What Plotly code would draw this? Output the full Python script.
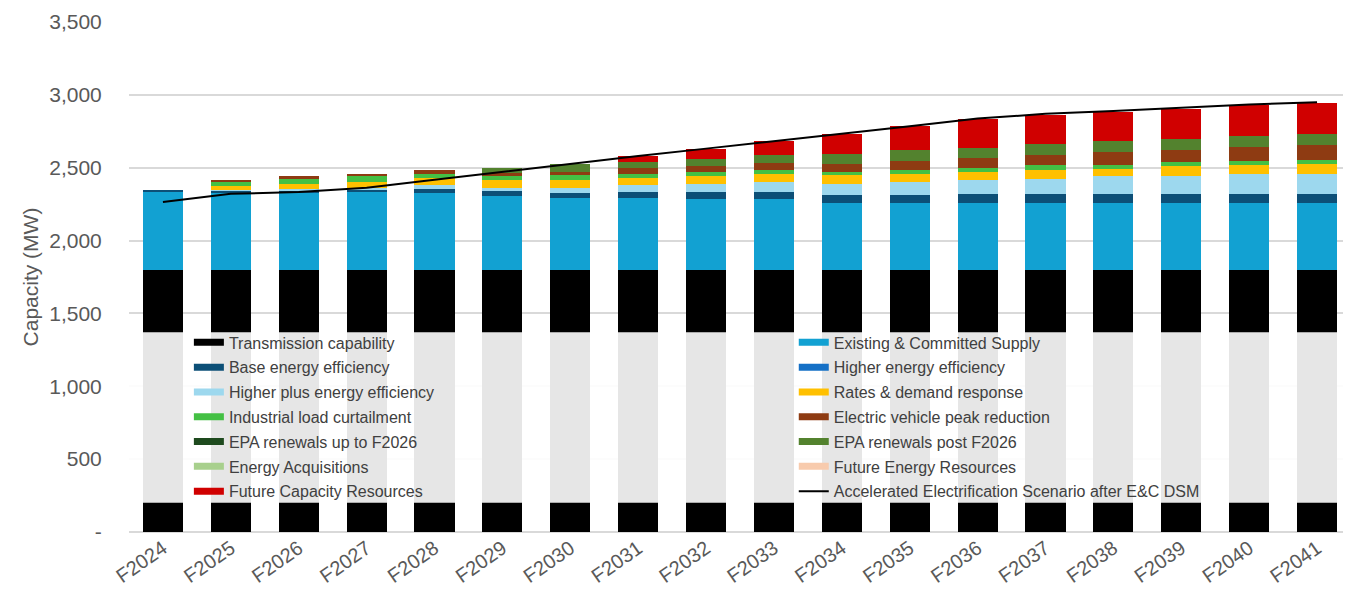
import plotly.graph_objects as go

years = ["F2024", "F2025", "F2026", "F2027", "F2028", "F2029", "F2030", "F2031", "F2032",
         "F2033", "F2034", "F2035", "F2036", "F2037", "F2038", "F2039", "F2040", "F2041"]

transmission = [1800] * 18
existing = [540, 531, 533, 530, 526, 506, 492, 490, 487, 487, 457, 457, 457, 457, 457, 457, 457, 457]
base_ee = [5, 10, 13, 22, 30, 34, 34, 43, 46, 46, 53, 53, 60, 60, 60, 60, 60, 60]
higher_ee = [0] * 18
higher_plus_ee = [0, 6, 10, 8, 23, 20, 34, 46, 53, 67, 80, 92, 96, 108, 124, 129, 138, 142]
rates_dr = [0, 25, 34, 45, 53, 58, 57, 53, 55, 55, 58, 53, 55, 62, 53, 63, 61, 64]
industrial = [0, 30, 32, 35, 27, 25, 30, 27, 30, 32, 23, 27, 32, 29, 27, 30, 30, 28]
ev_peak = [0, 16, 19, 19, 23, 20, 27, 41, 38, 45, 57, 64, 69, 74, 87, 85, 96, 103]
epa_upto = [0] * 18
epa_post = [0, 0, 0, 0, 0, 37, 53, 39, 51, 53, 68, 73, 69, 75, 73, 71, 74, 75]
energy_acq = [0] * 18
future_energy = [0] * 18
future_capacity = [0, 0, 0, 0, 0, 0, 0, 41, 71, 99, 138, 168, 199, 195, 202, 211, 213, 218]
accel_scenario = [2265, 2321, 2333, 2363, 2418, 2473, 2525, 2580, 2631, 2684, 2737, 2785,
                  2837, 2870, 2890, 2912, 2933, 2950]

ytick_vals = [0, 500, 1000, 1500, 2000, 2500, 3000, 3500]
ytick_text = ["-", "500", "1,000", "1,500", "2,000", "2,500", "3,000", "3,500"]

series = [
    ("Transmission capability", transmission, "#000000", "legend"),
    ("Existing & Committed Supply", existing, "#12A1D2", "legend2"),
    ("Base energy efficiency", base_ee, "#0C4F77", "legend"),
    ("Higher energy efficiency", higher_ee, "#1570C6", "legend2"),
    ("Higher plus energy efficiency", higher_plus_ee, "#9DD8EE", "legend"),
    ("Rates & demand response", rates_dr, "#FFC000", "legend2"),
    ("Industrial load curtailment", industrial, "#44C044", "legend"),
    ("Electric vehicle peak reduction", ev_peak, "#8E3B12", "legend2"),
    ("EPA renewals up to F2026", epa_upto, "#1E4A1E", "legend"),
    ("EPA renewals post F2026", epa_post, "#53822E", "legend2"),
    ("Energy Acquisitions", energy_acq, "#A8D08D", "legend"),
    ("Future Energy Resources", future_energy, "#F8CBAD", "legend2"),
    ("Future Capacity Resources", future_capacity, "#D00000", "legend"),
]

fig = go.Figure()
for name, vals, color, _ in series:
    fig.add_trace(go.Bar(x=years, y=vals, name=name, marker=dict(color=color, line=dict(width=0)),
                         showlegend=False))

# legend entries (wide flat swatches)
for i, (name, vals, color, leg) in enumerate(series):
    fig.add_trace(go.Scatter(x=[None], y=[None], mode="lines", name=name,
                             line=dict(color=color, width=7), legend=leg,
                             legendgroup="g%02d" % i, hoverinfo="skip"))

fig.add_trace(go.Scatter(x=years, y=accel_scenario, mode="lines",
                         name="Accelerated Electrification Scenario after E&C DSM",
                         line=dict(color="#000000", width=2), legend="legend2",
                         legendgroup="g99"))

legend_common = dict(
    orientation="v", yanchor="top", xanchor="left", y=0.405,
    bgcolor="rgba(0,0,0,0)", borderwidth=0, tracegroupgap=1,
    font=dict(family="Liberation Sans, Arial", size=16, color="#404040"),
    traceorder="grouped", itemwidth=30,
)

# the page body adds an 8px margin; the figure is sized/positioned to compensate
fig.update_layout(
    width=1343, height=601,
    margin=dict(l=121, r=0, t=14, b=77),
    plot_bgcolor="white", paper_bgcolor="white",
    barmode="stack", bargap=0.41,
    font=dict(family="Liberation Sans, Arial", color="#595959"),
    legend=dict(x=0.049, **legend_common),
    legend2=dict(x=0.544, **legend_common),
    shapes=[dict(type="rect", xref="x domain", yref="y", x0=0, x1=1, y0=200, y1=1370,
                 fillcolor="rgba(255,255,255,0.9)", line=dict(width=0), layer="above")],
    xaxis=dict(tickangle=-35, tickfont=dict(size=20, color="#595959"), showgrid=False,
               showline=False, ticks=""),
    yaxis=dict(range=[0, 3500], tickvals=ytick_vals, ticktext=ytick_text,
               tickfont=dict(size=21, color="#595959"),
               title=dict(text="Capacity (MW)", font=dict(size=21, color="#595959"), standoff=4),
               showgrid=True, gridcolor="#D9D9D9", gridwidth=1.5, zeroline=True,
               zerolinecolor="#D9D9D9", zerolinewidth=1.5,
               ticks="outside", ticklen=22, tickcolor="rgba(0,0,0,0)"),
)

fig.write_html("out.html")
